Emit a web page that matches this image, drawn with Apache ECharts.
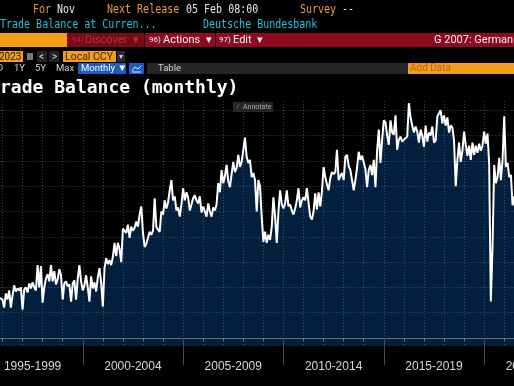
<!DOCTYPE html>
<html><head><meta charset="utf-8">
<script src="https://cdn.jsdelivr.net/npm/echarts@6/dist/echarts.min.js"></script>
<style>html,body{margin:0;padding:0;background:#000;overflow:hidden}#c{width:514px;height:386px;}</style>
</head><body><div id="c"></div>
<script>
// ---- data (German trade balance, EUR bn, monthly, month-end) ----
const startYear = 1995, startMonth = 9;
const balance = [
  4.3, 4.0, 4.1, 3.8,                                            // 1995 Sep-Dec
  3.0, 4.4, 3.8, 4.7, 3.0, 4.2, 5.2, 4.6, 4.9, 4.7, 5.0, 2.8,    // 1996
  4.8, 5.0, 4.5, 5.4, 4.9, 5.5, 5.0, 4.7, 7.2, 5.0, 7.1, 3.5,    // 1997
  5.0, 5.9, 6.3, 5.6, 7.2, 5.6, 6.6, 5.3, 5.8, 6.8, 6.2, 3.8,    // 1998
  5.4, 5.6, 5.1, 5.3, 3.6, 5.4, 5.7, 3.8, 5.9, 7.2, 5.6, 4.7,    // 1999
  5.2, 6.2, 5.0, 3.6, 6.1, 4.9, 5.5, 4.6, 6.0, 6.9, 5.5, 3.1,    // 2000
  6.9, 7.9, 7.3, 7.7, 7.2, 8.0, 9.4, 8.1, 9.4, 8.8, 7.5, 10.8,   // 2001
  10.9, 10.4, 11.2, 9.9, 11.0, 10.6, 10.9, 11.5, 11.0, 12.2, 13.0, 10.4, // 2002
  9.0, 9.3, 9.9, 10.5, 10.2, 10.6, 13.8, 11.0, 10.7, 10.5, 12.5, 12.2,   // 2003
  13.6, 12.8, 13.4, 14.6, 15.6, 13.6, 14.0, 12.6, 12.9, 12.0, 13.2, 14.8, // 2004
  13.6, 14.4, 13.9, 12.6, 13.2, 13.8, 14.1, 13.6, 13.3, 14.0, 12.4, 13.0, // 2005
  12.5, 12.0, 13.3, 12.5, 12.0, 12.9, 12.6, 13.2, 15.3, 14.4, 16.6, 15.3, // 2006
  16.0, 17.1, 15.5, 14.9, 16.2, 17.4, 16.4, 16.8, 18.1, 16.9, 17.4, 18.6, // 2007
  19.8, 17.9, 17.3, 17.6, 15.9, 16.3, 15.6, 12.5, 15.6, 15.0, 12.0, 9.5,  // 2008
  10.5, 9.4, 10.2, 9.7, 11.0, 13.9, 12.0, 9.4, 12.5, 14.6, 13.2, 12.8,    // 2009
  13.3, 14.6, 13.0, 13.2, 12.6, 12.2, 12.8, 13.6, 14.8, 12.9, 13.6, 13.9, // 2010
  13.6, 14.8, 13.4, 12.0, 11.7, 12.5, 14.3, 12.7, 14.4, 13.0, 14.5, 16.9, // 2011
  15.9, 15.2, 14.6, 15.8, 16.4, 16.2, 16.4, 18.6, 15.6, 16.0, 16.3, 15.6, // 2012
  17.9, 18.1, 17.0, 16.6, 15.6, 14.6, 15.6, 16.8, 18.4, 17.6, 18.0, 18.1, // 2013
  16.7, 14.9, 16.6, 17.1, 16.1, 17.6, 14.9, 18.5, 20.6, 17.3, 19.6, 21.5, // 2014
  21.3, 20.0, 19.1, 21.5, 20.3, 20.1, 22.0, 18.6, 19.6, 19.9, 19.4, 19.6, // 2015
  19.5, 19.9, 23.2, 21.8, 21.0, 20.3, 20.9, 20.4, 19.3, 20.6, 20.0, 18.9, // 2016
  21.0, 19.4, 20.3, 20.0, 20.9, 19.3, 19.5, 21.9, 22.0, 22.5, 21.2, 22.0, // 2017
  21.0, 21.8, 20.3, 21.0, 20.8, 19.5, 15.0, 17.6, 19.3, 17.4, 18.5, 20.4, // 2018
  19.1, 18.0, 19.0, 17.6, 19.3, 18.1, 19.0, 18.3, 19.2, 18.5, 19.0, 20.4, // 2019
  19.2, 20.2, 17.2, 3.6, 9.0, 17.1, 15.3, 15.9, 17.8, 15.6, 17.6, 21.9,   // 2020
  16.9, 17.3, 15.9, 16.1, 13.1, 14.0                                      // 2021 Jan-Jun
];
const periodStarts = [1995, 2000, 2005, 2010, 2015, 2020];
const chartTitle = 'Trade Balance (monthly)';
const xMin = 1995, xMax = 2025;
const yMin = -0.79, yMax = 23.42, yStep = 2.5;

// ---- build points (decimal year at month end) ----
const points = balance.map((v, i) => {
  const mi = startMonth - 1 + i;
  const yr = startYear + Math.floor(mi / 12);
  const m = (mi % 12) + 1;
  return [yr + m / 12, v];
});

const gridLeft = -17.6, gridRight = -70.5, gridTop = 101, gridBottom = 40;
const plotH = 386 - gridTop - gridBottom;
const grid2Bottom = gridBottom + plotH * (0 - yMin) / (yMax - yMin);

const gridCol = 'rgba(110,135,165,0.5)';
const dot = [1, 2];

const ORANGE = '#ef9a3c', CYAN = '#22c3d6', MONO = '"DejaVu Sans Mono", monospace', SANS = 'Roboto, "Liberation Sans", sans-serif';
function txt(x, y, text, fill, font, extra) {
  return Object.assign({ type: 'text', x, y, z: 20, silent: true,
    style: { text, fill, font, verticalAlign: 'middle' } }, extra || {});
}
function rect(x, y, w, h, fill) {
  return { type: 'rect', z: 19, silent: true, shape: { x, y, width: w, height: h }, style: { fill } };
}
const tall = { scaleY: 1.2 };

const graphics = [
  // row 1
  txt(33, 10, 'For', ORANGE, '10px ' + MONO, tall),
  txt(57, 10, 'Nov', '#e8e8e8', '10px ' + MONO, tall),
  txt(107, 10, 'Next Release', ORANGE, '10px ' + MONO, tall),
  txt(186, 10, '05 Feb 08:00', '#e8e8e8', '10px ' + MONO, tall),
  txt(300, 10, 'Survey', ORANGE, '10px ' + MONO, tall),
  txt(342, 10, '--', '#e8e8e8', '10px ' + MONO, tall),
  // row 2
  txt(0, 25, 'Trade Balance at Curren...', CYAN, '10px ' + MONO, tall),
  txt(203, 25, 'Deutsche Bundesbank', CYAN, '10px ' + MONO, tall),
  // row 3 red bar
  rect(0, 33, 67, 14, '#f59c1a'),
  rect(67, 33, 447, 14, '#8c0b1f'),
  rect(68, 33, 76, 14, '#7a0a1a'),
  rect(144, 33, 1, 14, '#2a0006'),
  rect(215, 33, 1, 14, '#2a0006'),
  txt(72, 40, '94)', '#a83442', '8px ' + SANS),
  txt(85, 40, 'Discover  ▾', '#a83442', '11px ' + SANS),
  txt(149, 40, '96)', '#f0f0f0', '8px ' + SANS),
  txt(163, 40, 'Actions  ▾', '#f0f0f0', '11px ' + SANS),
  txt(219, 40, '97)', '#f0f0f0', '8px ' + SANS),
  txt(233, 40, 'Edit  ▾', '#f0f0f0', '11px ' + SANS),
  txt(434, 40, 'G 2007: German', '#f0f0f0', '11px ' + SANS),
  // row 4
  rect(0, 51, 23, 11, '#f59c1a'),
  txt(-1, 57, '2023', '#1a1a1a', '10px ' + SANS),
  rect(27, 53, 6, 7, '#777'),
  rect(37, 51, 10, 11, '#222'),
  txt(39, 57, '<', '#ddd', '10px ' + SANS),
  rect(49, 51, 10, 11, '#222'),
  txt(52, 57, '>', '#ddd', '10px ' + SANS),
  rect(63, 51, 53, 11, '#f59c1a'),
  txt(65, 57, 'Local CCY', '#3a2a10', '10.5px ' + SANS),
  rect(117, 51, 8, 11, '#2a2a2a'),
  txt(119, 57, '▾', '#ccc', '8px ' + SANS),
  // row 5
  txt(-3, 68.5, 'D', '#cfcfcf', '9.5px ' + SANS),
  txt(14, 68.5, '1Y', '#cfcfcf', '9.5px ' + SANS),
  txt(35, 68.5, '5Y', '#cfcfcf', '9.5px ' + SANS),
  txt(56, 68.5, 'Max', '#cfcfcf', '9.5px ' + SANS),
  rect(78, 63, 48, 11, '#1d5cc4'),
  txt(81, 68.5, 'Monthly ▼', '#ffffff', '9.5px ' + SANS),
  rect(129, 63, 15, 11, '#1d5cc4'),
  { type: 'polyline', z: 21, silent: true, shape: { points: [[132, 71], [135, 67], [138, 69], [141, 66]] }, style: { stroke: '#dfe8ff', lineWidth: 1, fill: null } },
  { type: 'line', z: 21, silent: true, shape: { x1: 132, y1: 72, x2: 141, y2: 72 }, style: { stroke: '#dfe8ff', lineWidth: 1 } },
  rect(147, 63, 261, 11, '#262626'),
  txt(158, 68.5, 'Table', '#d0d0d0', '9.5px ' + SANS),
  rect(408, 63, 106, 11, '#f59c1a'),
  txt(410, 68.5, 'Add Data', '#b9661c', '10px ' + SANS),
  // title
  txt(-10.8, 88, chartTitle, '#ffffff', 'bold 18px ' + MONO),
  // annotate button
  rect(233, 102, 40, 10, '#262626'),
  txt(236, 107, '⁄', '#888', '8px ' + SANS),
  txt(243, 107, 'Annotate', '#aaaaaa', '7px ' + SANS)
];

const chart = echarts.init(document.getElementById('c'), null, { renderer: 'canvas' });
chart.setOption({
  backgroundColor: '#000000',
  animation: false,
  grid: [
    { left: gridLeft, right: gridRight, top: gridTop, bottom: gridBottom, outerBoundsMode: 'none', containLabel: false },
    { left: gridLeft, right: gridRight, top: gridTop, bottom: grid2Bottom, outerBoundsMode: 'none', containLabel: false }
  ],
  xAxis: [
    { type: 'value', gridIndex: 0, min: xMin, max: xMax, interval: 5, z: 3,
      axisLine: { show: true, lineStyle: { color: '#6e6e6e', width: 1 } },
      axisTick: { show: true, length: 27, lineStyle: { color: '#4a4a4a', width: 1 } },
      minorTick: { show: true, splitNumber: 5, length: 3, lineStyle: { color: '#777' } },
      axisLabel: { show: false },
      splitLine: { show: true, lineStyle: { color: gridCol, type: dot, width: 1 } },
      minorSplitLine: { show: true, lineStyle: { color: gridCol, type: dot, width: 1 } } },
    { type: 'value', gridIndex: 0, min: xMin, max: xMax, interval: 2.5, position: 'bottom',
      axisLine: { show: false }, axisTick: { show: false }, splitLine: { show: false },
      axisLabel: { show: true, margin: 15, color: '#d8d8d8', fontSize: 12,
        fontFamily: '"Liberation Sans", Arial, sans-serif',
        showMinLabel: false, showMaxLabel: false,
        formatter: v => {
          const s = v - 2.5;
          return periodStarts.indexOf(Math.round(s)) >= 0 && Math.abs(s - Math.round(s)) < 1e-6
            ? (s + '-' + (s + 4)) : '';
        } } },
    { type: 'value', gridIndex: 1, min: xMin, max: xMax, show: false }
  ],
  yAxis: [
    { type: 'value', gridIndex: 0, min: yMin, max: yMax, show: false },
    { type: 'value', gridIndex: 1, min: 0, max: yMax, interval: yStep, z: 3,
      axisLine: { show: false }, axisTick: { show: false }, axisLabel: { show: false },
      splitLine: { show: true, showMaxLine: false, lineStyle: { color: gridCol, type: dot, width: 1 } } }
  ],
  series: [
    { type: 'line', xAxisIndex: 0, yAxisIndex: 0, data: points, symbol: 'none', z: 1, silent: true,
      lineStyle: { width: 0, opacity: 0 },
      areaStyle: { color: '#031f3e', opacity: 1, origin: 'start' } },
    { type: 'line', xAxisIndex: 0, yAxisIndex: 0, data: points, symbol: 'none', z: 5, silent: true,
      lineStyle: { color: '#ffffff', width: 2 } }
  ],
  graphic: graphics
});
</script>
</body></html>
